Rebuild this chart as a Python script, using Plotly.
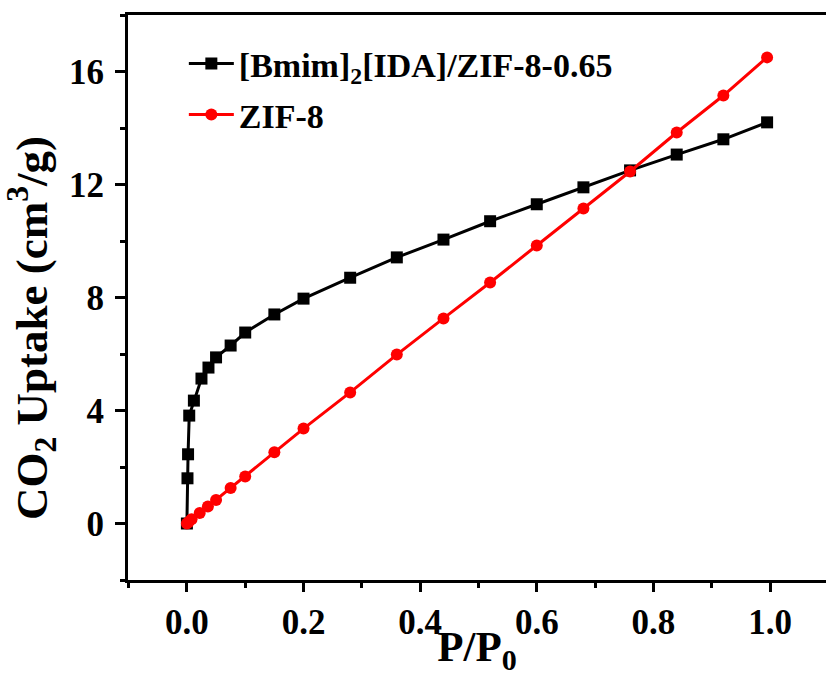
import plotly.graph_objects as go

# Data
bmim_x = [0, 0.001, 0.002, 0.004, 0.012, 0.025, 0.037, 0.05, 0.075, 0.1, 0.15, 0.2,
          0.28, 0.36, 0.44, 0.52, 0.6, 0.68, 0.76, 0.84, 0.92, 0.995]
bmim_y = [0, 1.6, 2.45, 3.82, 4.35, 5.13, 5.52, 5.88, 6.3, 6.76, 7.4, 7.96,
          8.7, 9.42, 10.05, 10.7, 11.3, 11.9, 12.5, 13.06, 13.6, 14.2]

zif_x = [0, 0.003, 0.008, 0.022, 0.036, 0.05, 0.075, 0.1, 0.15, 0.2,
         0.28, 0.36, 0.44, 0.52, 0.6, 0.68, 0.76, 0.84, 0.92, 0.995]
zif_y = [0, 0.05, 0.15, 0.37, 0.6, 0.83, 1.26, 1.66, 2.52, 3.36,
         4.64, 5.98, 7.26, 8.53, 9.84, 11.15, 12.46, 13.84, 15.15, 16.5]

x_ticks = [0.0, 0.2, 0.4, 0.6, 0.8, 1.0]
x_tick_labels = ["0.0", "0.2", "0.4", "0.6", "0.8", "1.0"]
y_ticks = [0, 4, 8, 12, 16]
y_tick_labels = ["0", "4", "8", "12", "16"]

y_title = "CO<sub>2</sub> Uptake (cm<sup>3</sup>/g)"
x_title = "P/P<sub>0</sub>"

FONT = "Liberation Serif"

fig = go.Figure()
fig.add_trace(go.Scatter(
    x=bmim_x, y=bmim_y, mode="lines+markers",
    name="[Bmim]<sub>2</sub>[IDA]/ZIF-8-0.65",
    line=dict(color="black", width=3),
    marker=dict(symbol="square", size=12, color="black"),
    legendgroup="a",
))
fig.add_trace(go.Scatter(
    x=zif_x, y=zif_y, mode="lines+markers",
    name="ZIF-8",
    line=dict(color="#ff0000", width=3),
    marker=dict(symbol="circle", size=12, color="#ff0000"),
    legendgroup="b",
))

fig.update_layout(
    width=826, height=677,
    margin=dict(l=128, r=0, t=15, b=97),
    paper_bgcolor="white", plot_bgcolor="white",
    font=dict(family=FONT, size=34, color="black", weight="bold"),
    showlegend=True,
    legend=dict(
        x=0.08, y=0.965, xanchor="left", yanchor="top",
        bgcolor="rgba(0,0,0,0)", borderwidth=0,
        font=dict(family=FONT, size=34, color="black", weight="bold"),
        itemwidth=45, traceorder="grouped", tracegroupgap=4,
    ),
    xaxis=dict(
        range=[-0.101, 1.096],
        tickmode="array", tickvals=x_ticks, ticktext=x_tick_labels,
        ticks="outside", ticklen=9, tickwidth=2.5, tickcolor="black",
        minor=dict(dtick=0.1, tick0=0, ticks="outside", ticklen=5, tickwidth=2.5, tickcolor="black"),
        showline=True, linecolor="black", linewidth=3, mirror=True,
        showgrid=False, zeroline=False,
        tickfont=dict(family=FONT, size=35, color="black", weight="bold"),
        title=dict(text=x_title, standoff=2,
                   font=dict(family=FONT, size=43, color="black", weight="bold")),
    ),
    yaxis=dict(
        range=[-2, 18],
        tickmode="array", tickvals=y_ticks, ticktext=y_tick_labels,
        ticks="outside", ticklen=10, tickwidth=2.5, tickcolor="black",
        minor=dict(dtick=2, tick0=0, ticks="outside", ticklen=5, tickwidth=2.5, tickcolor="black"),
        showline=True, linecolor="black", linewidth=3, mirror=False,
        showgrid=False, zeroline=False,
        tickfont=dict(family=FONT, size=35, color="black", weight="bold"),
        ticklabelstandoff=4,
    ),
    annotations=[dict(
        text=y_title, textangle=-90, showarrow=False,
        xref="paper", yref="paper", x=-0.139, y=0.446,
        xanchor="center", yanchor="middle",
        font=dict(family=FONT, size=45, color="black", weight="bold"),
    )],
)

fig.write_html("out.html")
